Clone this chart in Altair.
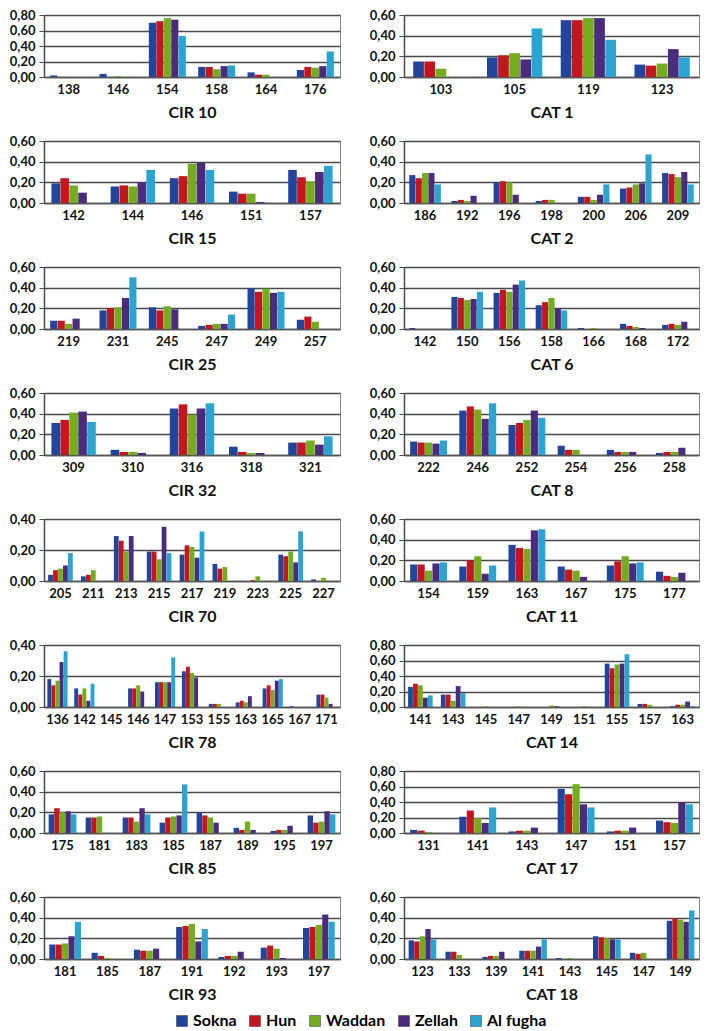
import altair as alt
import pandas as pd

POPULATIONS = ["Sokna", "Hun", "Waddan", "Zellah", "Al fugha"]
COLORS = ["#22449A", "#C3161F", "#73AD1F", "#4B2B7C", "#2BA4D2"]

# values per allele: [Sokna, Hun, Waddan, Zellah, Al fugha]
CIR10_ALLELES = ["138", "146", "154", "158", "164", "176"]
CIR10_VALUES = [[0.02, 0, 0, 0, 0], [0.04, 0, 0.01, 0, 0], [0.70, 0.72, 0.76, 0.74, 0.53],
                [0.13, 0.13, 0.10, 0.14, 0.15], [0.06, 0.03, 0.03, 0, 0], [0.09, 0.13, 0.12, 0.14, 0.33]]

CAT1_ALLELES = ["103", "105", "119", "123"]
CAT1_VALUES = [[0.15, 0.15, 0.08, 0, 0], [0.19, 0.21, 0.23, 0.17, 0.47],
               [0.55, 0.55, 0.57, 0.57, 0.36], [0.12, 0.11, 0.13, 0.27, 0.19]]

CIR15_ALLELES = ["142", "144", "146", "151", "157"]
CIR15_VALUES = [[0.19, 0.24, 0.17, 0.10, 0], [0.16, 0.17, 0.16, 0.20, 0.32], [0.24, 0.26, 0.38, 0.39, 0.32],
                [0.11, 0.09, 0.09, 0.01, 0], [0.32, 0.25, 0.21, 0.30, 0.36]]

CAT2_ALLELES = ["186", "192", "196", "198", "200", "206", "209"]
CAT2_VALUES = [[0.27, 0.24, 0.29, 0.29, 0.18], [0.02, 0.03, 0.02, 0.07, 0], [0.20, 0.21, 0.20, 0.08, 0],
               [0.02, 0.03, 0.03, 0, 0], [0.06, 0.06, 0.03, 0.08, 0.18], [0.14, 0.15, 0.18, 0.19, 0.47],
               [0.29, 0.28, 0.25, 0.30, 0.18]]

CIR25_ALLELES = ["219", "231", "245", "247", "249", "257"]
CIR25_VALUES = [[0.08, 0.08, 0.05, 0.10, 0], [0.18, 0.20, 0.21, 0.30, 0.50], [0.21, 0.18, 0.22, 0.19, 0],
                [0.03, 0.04, 0.05, 0.05, 0.14], [0.39, 0.36, 0.39, 0.35, 0.36], [0.09, 0.12, 0.07, 0, 0]]

CAT6_ALLELES = ["142", "150", "156", "158", "166", "168", "172"]
CAT6_VALUES = [[0.01, 0, 0, 0, 0], [0.31, 0.30, 0.28, 0.29, 0.36], [0.35, 0.38, 0.36, 0.43, 0.47],
               [0.23, 0.26, 0.30, 0.20, 0.18], [0.01, 0, 0.01, 0, 0], [0.05, 0.03, 0.02, 0.01, 0],
               [0.04, 0.05, 0.04, 0.07, 0]]

CIR32_ALLELES = ["309", "310", "316", "318", "321"]
CIR32_VALUES = [[0.31, 0.34, 0.41, 0.42, 0.32], [0.05, 0.03, 0.03, 0.02, 0], [0.45, 0.49, 0.39, 0.45, 0.50],
                [0.08, 0.03, 0.02, 0.02, 0], [0.12, 0.12, 0.14, 0.10, 0.18]]

CAT8_ALLELES = ["222", "246", "252", "254", "256", "258"]
CAT8_VALUES = [[0.13, 0.12, 0.12, 0.11, 0.14], [0.43, 0.47, 0.44, 0.35, 0.50], [0.29, 0.31, 0.34, 0.43, 0.36],
               [0.09, 0.05, 0.05, 0, 0], [0.05, 0.03, 0.03, 0.03, 0], [0.02, 0.03, 0.03, 0.07, 0]]

CIR70_ALLELES = ["205", "211", "213", "215", "217", "219", "223", "225", "227"]
CIR70_VALUES = [[0.04, 0.07, 0.08, 0.10, 0.18], [0.03, 0.04, 0.07, 0, 0], [0.29, 0.26, 0.19, 0.29, 0],
                [0.19, 0.19, 0.14, 0.35, 0.18], [0.17, 0.23, 0.22, 0.15, 0.32], [0.11, 0.08, 0.09, 0, 0],
                [0, 0.005, 0.03, 0, 0], [0.17, 0.16, 0.19, 0.12, 0.32], [0.01, 0, 0.02, 0, 0]]

CAT11_ALLELES = ["154", "159", "163", "167", "175", "177"]
CAT11_VALUES = [[0.16, 0.16, 0.10, 0.17, 0.18], [0.14, 0.20, 0.24, 0.07, 0.15], [0.35, 0.32, 0.31, 0.49, 0.50],
                [0.14, 0.11, 0.10, 0.04, 0], [0.15, 0.19, 0.24, 0.17, 0.18], [0.09, 0.05, 0.04, 0.08, 0]]

CIR78_ALLELES = ["136", "142", "145", "146", "147", "153", "155", "163", "165", "167", "171"]
CIR78_VALUES = [[0.18, 0.14, 0.17, 0.29, 0.36], [0.12, 0.08, 0.12, 0.04, 0.15], [0, 0, 0, 0, 0],
                [0.12, 0.12, 0.14, 0.10, 0], [0.16, 0.16, 0.16, 0.16, 0.32], [0.23, 0.26, 0.22, 0.19, 0],
                [0.02, 0.02, 0.02, 0, 0], [0.03, 0.04, 0.03, 0.07, 0], [0.12, 0.14, 0.11, 0.17, 0.18],
                [0.005, 0, 0, 0, 0], [0.08, 0.08, 0.06, 0.02, 0]]

CAT14_ALLELES = ["141", "143", "145", "147", "149", "151", "155", "157", "163"]
CAT14_VALUES = [[0.26, 0.30, 0.28, 0.12, 0.15], [0.16, 0.16, 0.08, 0.27, 0.18], [0, 0, 0.01, 0, 0],
                [0, 0, 0.01, 0, 0], [0, 0, 0.02, 0.01, 0], [0, 0, 0.01, 0, 0],
                [0.56, 0.50, 0.55, 0.56, 0.68], [0.04, 0.04, 0.03, 0, 0], [0.01, 0.03, 0.03, 0.07, 0.01]]

CIR85_ALLELES = ["175", "181", "183", "185", "187", "189", "195", "197"]
CIR85_VALUES = [[0.18, 0.24, 0.20, 0.21, 0.18], [0.15, 0.15, 0.16, 0, 0], [0.15, 0.15, 0.11, 0.24, 0.18],
                [0.10, 0.15, 0.16, 0.17, 0.47], [0.20, 0.17, 0.15, 0.10, 0], [0.05, 0.03, 0.11, 0.03, 0],
                [0.02, 0.03, 0.03, 0.07, 0], [0.17, 0.10, 0.11, 0.21, 0.18]]

CAT17_ALLELES = ["131", "141", "143", "147", "151", "157"]
CAT17_VALUES = [[0.04, 0.03, 0.01, 0, 0], [0.21, 0.29, 0.19, 0.13, 0.33], [0.02, 0.03, 0.03, 0.07, 0],
                [0.57, 0.50, 0.63, 0.37, 0.33], [0.02, 0.03, 0.03, 0.07, 0], [0.16, 0.14, 0.13, 0.40, 0.37]]

CIR93_ALLELES = ["181", "185", "187", "191", "192", "193", "197"]
CIR93_VALUES = [[0.14, 0.14, 0.15, 0.22, 0.36], [0.06, 0.03, 0.01, 0, 0], [0.09, 0.08, 0.08, 0.10, 0],
                [0.31, 0.32, 0.34, 0.17, 0.29], [0.02, 0.03, 0.03, 0.07, 0], [0.11, 0.13, 0.10, 0.01, 0],
                [0.30, 0.31, 0.33, 0.43, 0.36]]

CAT18_ALLELES = ["123", "133", "139", "141", "143", "145", "147", "149"]
CAT18_VALUES = [[0.18, 0.17, 0.22, 0.29, 0.19], [0.07, 0.07, 0.04, 0, 0], [0.02, 0.03, 0.03, 0.07, 0],
                [0.08, 0.08, 0.08, 0.12, 0.19], [0.01, 0, 0.01, 0, 0], [0.22, 0.21, 0.20, 0.19, 0.19],
                [0.06, 0.05, 0.06, 0, 0], [0.37, 0.39, 0.38, 0.36, 0.47]]

PANELS = [
    ("CIR 10", CIR10_ALLELES, CIR10_VALUES, 0.8),
    ("CAT 1", CAT1_ALLELES, CAT1_VALUES, 0.6),
    ("CIR 15", CIR15_ALLELES, CIR15_VALUES, 0.6),
    ("CAT 2", CAT2_ALLELES, CAT2_VALUES, 0.6),
    ("CIR 25", CIR25_ALLELES, CIR25_VALUES, 0.6),
    ("CAT 6", CAT6_ALLELES, CAT6_VALUES, 0.6),
    ("CIR 32", CIR32_ALLELES, CIR32_VALUES, 0.6),
    ("CAT 8", CAT8_ALLELES, CAT8_VALUES, 0.6),
    ("CIR 70", CIR70_ALLELES, CIR70_VALUES, 0.4),
    ("CAT 11", CAT11_ALLELES, CAT11_VALUES, 0.6),
    ("CIR 78", CIR78_ALLELES, CIR78_VALUES, 0.4),
    ("CAT 14", CAT14_ALLELES, CAT14_VALUES, 0.8),
    ("CIR 85", CIR85_ALLELES, CIR85_VALUES, 0.6),
    ("CAT 17", CAT17_ALLELES, CAT17_VALUES, 0.8),
    ("CIR 93", CIR93_ALLELES, CIR93_VALUES, 0.6),
    ("CAT 18", CAT18_ALLELES, CAT18_VALUES, 0.6),
]

FONT = "Lato"
LABEL_EXPR = "replace(format(datum.value, '.2f'), '.', ',')"


def panel(title, alleles, values, ymax, width):
    rows = []
    for a, vals in zip(alleles, values):
        for p, v in zip(POPULATIONS, vals):
            rows.append({"allele": a, "pop": p, "freq": v})
    df = pd.DataFrame(rows)
    n = int(round(ymax / 0.2))
    ticks = [round(i * 0.2, 2) for i in range(n + 1)]
    return alt.Chart(df).mark_bar().encode(
        x=alt.X("allele:N", sort=alleles, title=title,
                scale=alt.Scale(paddingInner=0.25, paddingOuter=0.125),
                axis=alt.Axis(labelAngle=0, ticks=False, grid=False, domainColor="#555555",
                              domainWidth=1.5, labelPadding=6, titlePadding=8,
                              titleFontSize=16, labelFontSize=13)),
        xOffset=alt.XOffset("pop:N", sort=POPULATIONS,
                            scale=alt.Scale(domain=POPULATIONS, paddingInner=0.04)),
        y=alt.Y("freq:Q", scale=alt.Scale(domain=[0, ymax], nice=False, zero=True),
                axis=alt.Axis(values=ticks, title=None, labelExpr=LABEL_EXPR, grid=True,
                              gridColor="#4a4a4a", gridWidth=1.5, tickColor="#4a4a4a",
                              tickSize=5, domainColor="#4a4a4a", domainWidth=1.5,
                              labelFontSize=13, labelPadding=4)),
        color=alt.Color("pop:N", sort=POPULATIONS,
                        scale=alt.Scale(domain=POPULATIONS, range=COLORS),
                        legend=alt.Legend(orient="none", legendX=130, legendY=998,
                                          direction="horizontal", title=None,
                                          symbolType="square", symbolSize=120,
                                          symbolStrokeColor="#333333", symbolStrokeWidth=0.5,
                                          labelFontSize=16, labelFontWeight="bold",
                                          labelFont=FONT, columnPadding=10, labelOffset=3)),
    ).properties(width=width, height=62)


charts = []
for i, (title, alleles, values, ymax) in enumerate(PANELS):
    charts.append(panel(title, alleles, values, ymax, 296 if i % 2 == 0 else 295))

chart = alt.concat(*charts, columns=2, spacing=64, bounds="flush").resolve_scale(
    color="shared", xOffset="independent", x="independent", y="independent"
).properties(padding=0).configure_axis(
    labelFont=FONT, titleFont=FONT, labelFontWeight="bold", titleFontWeight="bold",
    labelColor="#111111", titleColor="#111111"
).configure_view(stroke="#8a8a8a", strokeWidth=1)

chart.save("out.html", embed_options={"renderer": "svg", "actions": False})
